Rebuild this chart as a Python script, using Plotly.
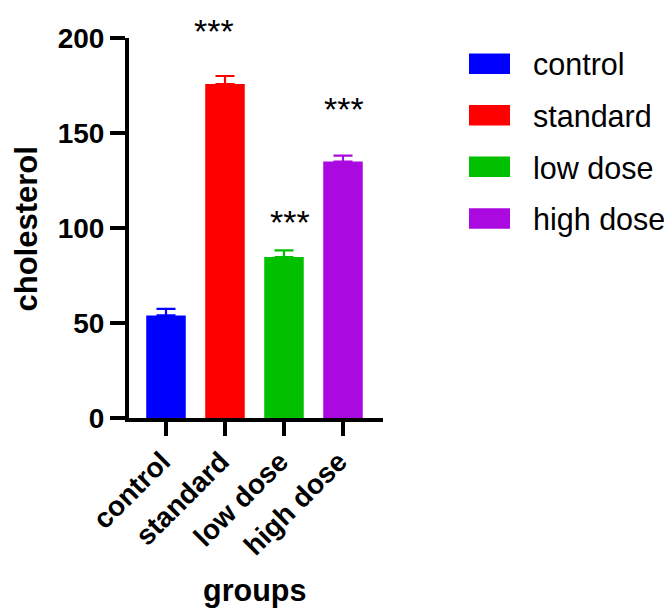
import plotly.graph_objects as go

groups = ["control", "standard", "low dose", "high dose"]
means = [54.0, 175.8, 84.7, 135.0]
sems = [3.4, 4.2, 3.5, 3.1]
colors = ["#0000FF", "#FF0000", "#00C000", "#AA0ADF"]
signif = ["", "***", "***", "***"]
y_ticks = [0, 50, 100, 150, 200]

FONT = "Liberation Sans, Arial, sans-serif"
OFF = 8  # page body margin
W, H = 672 - OFF, 608 - OFF
L, R, T = 129 - OFF, W - (383 - OFF), 38 - OFF
B = H - (418.5 - OFF)
PW, PH = W - L - R, H - T - B


def px_x(x):
    """screen pixel x -> paper"""
    return (x - OFF - L) / PW


def px_y(y):
    """screen pixel y -> paper"""
    return (H - B - (y - OFF)) / PH


fig = go.Figure()
for g, m, s, c in zip(groups, means, sems, colors):
    fig.add_trace(go.Bar(
        x=[g], y=[m], width=0.67, marker=dict(color=c, line=dict(width=0)),
        error_y=dict(type="data", array=[s], arrayminus=[0], symmetric=False,
                     color=c, thickness=2.2, width=9.5),
        showlegend=False, name=g,
    ))

# significance markers
star_dx = [0, -11, 6, 1]
star_dy = [0, 45, 28, 47]
for g, m, s, lab, dx, dy in zip(groups, means, sems, signif, star_dx, star_dy):
    if lab:
        fig.add_annotation(x=g, y=m + s, text=lab, showarrow=False,
                           xshift=dx, yshift=dy, yanchor="middle",
                           font=dict(family=FONT, size=34, color="black"))

# legend drawn manually
leg_y = [63.7, 115.3, 167.0, 218.7]
for g, c, yc in zip(groups, colors, leg_y):
    fig.add_shape(type="rect", xref="paper", yref="paper",
                  x0=px_x(469), x1=px_x(510), y0=px_y(yc - 10.3), y1=px_y(yc + 10.3),
                  fillcolor=c, line=dict(width=0))
    fig.add_annotation(xref="paper", yref="paper", x=px_x(531), y=px_y(yc + 0.7),
                       text=g, showarrow=False, xanchor="left", yanchor="middle",
                       font=dict(family=FONT, size=30.5, color="black"))

# axis titles
fig.add_annotation(xref="paper", yref="paper", x=px_x(254.2), y=px_y(591),
                   text="groups", showarrow=False, xanchor="center", yanchor="middle",
                   font=dict(family=FONT, size=30.5, weight="bold", color="black"))
fig.add_annotation(xref="paper", yref="paper", x=px_x(26.3), y=px_y(229.5),
                   text="cholesterol", showarrow=False, textangle=-90,
                   xanchor="center", yanchor="middle",
                   font=dict(family=FONT, size=31, weight="bold", color="black"))

fig.update_layout(
    width=W, height=H, margin=dict(l=L, r=R, t=T, b=B, autoexpand=False),
    paper_bgcolor="white", plot_bgcolor="white", barmode="overlay",
    showlegend=False,
    font=dict(family=FONT, color="black"),
    xaxis=dict(type="category", categoryorder="array", categoryarray=groups,
               range=[-0.627, 3.678], showline=True, linecolor="black", linewidth=4,
               ticks="outside", ticklen=14, tickwidth=4, tickcolor="black",
               tickangle=-45, showgrid=False, zeroline=False, automargin=False,
               ticklabelshift=-4, ticklabelstandoff=-2,
               tickfont=dict(family=FONT, size=28, weight="bold", color="black")),
    yaxis=dict(range=[0, 200], tickvals=y_ticks, showline=True, linecolor="black",
               linewidth=4, ticks="outside", ticklen=15, tickwidth=4, tickcolor="black",
               showgrid=False, zeroline=False, automargin=False,
               tickfont=dict(family=FONT, size=28, weight="bold", color="black")),
)

fig.write_html("out.html")
